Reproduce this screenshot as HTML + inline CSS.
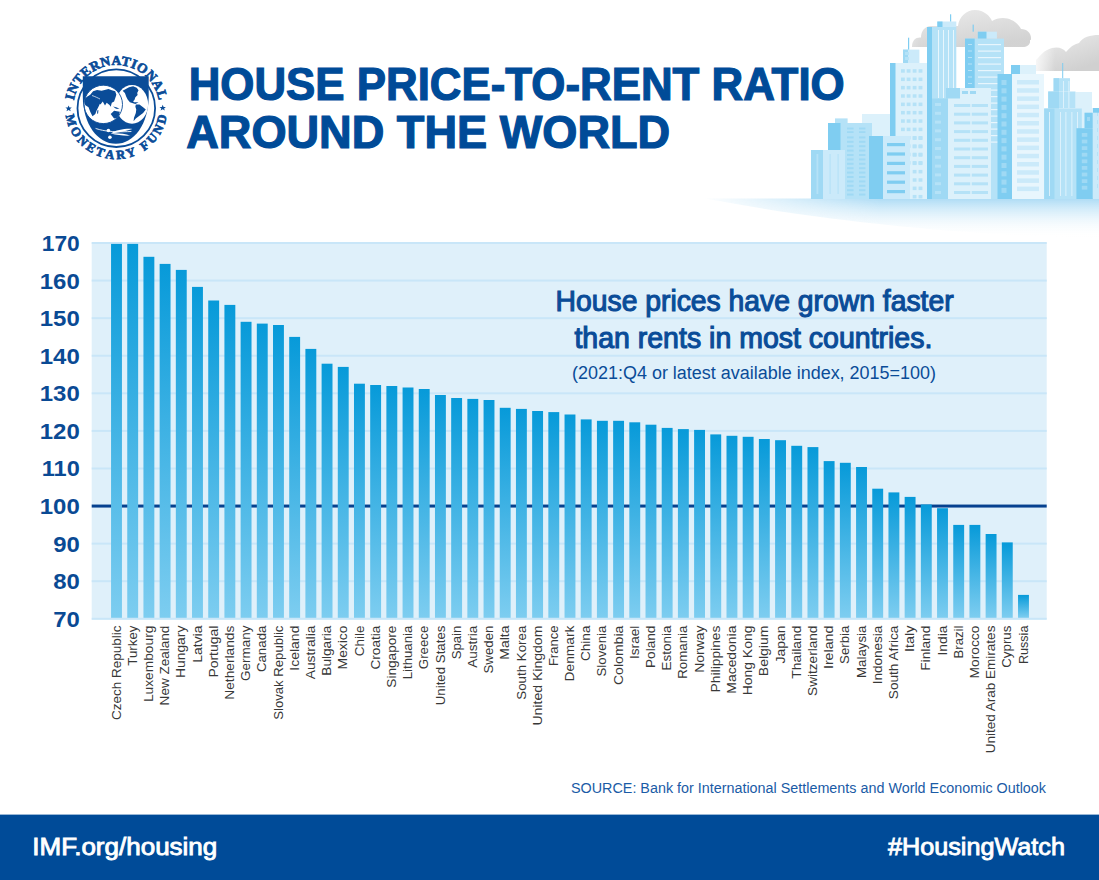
<!DOCTYPE html>
<html><head><meta charset="utf-8"><title>House price-to-rent ratio around the world</title>
<style>
html,body{margin:0;padding:0;background:#fff;}
body{width:1099px;height:880px;overflow:hidden;position:relative;font-family:"Liberation Sans",sans-serif;}
svg{position:absolute;left:0;top:0;}
.yl{font-family:"Liberation Sans",sans-serif;font-weight:bold;font-size:21.3px;fill:#0a4a94;}
.xl{font-family:"Liberation Sans",sans-serif;font-size:13px;fill:#383838;}
.ttl{font-family:"Liberation Sans",sans-serif;font-weight:bold;font-size:45.5px;fill:#004b98;stroke:#004b98;stroke-width:1.2px;}
.ann{font-family:"Liberation Sans",sans-serif;font-size:28.6px;fill:#0a4c98;stroke:#0a4c98;stroke-width:1.1px;}
.ann3{font-family:"Liberation Sans",sans-serif;font-size:18px;fill:#0a4c98;}
.src{font-family:"Liberation Sans",sans-serif;font-size:14px;fill:#1a5ba6;}
.ft{font-family:"Liberation Sans",sans-serif;font-size:23.5px;fill:#ffffff;stroke:#ffffff;stroke-width:0.85px;}
</style></head>
<body>
<svg width="1099" height="880" viewBox="0 0 1099 880">
<defs>
<linearGradient id="bg" x1="0" y1="0" x2="0" y2="1">
<stop offset="0" stop-color="#079ad9"/>
<stop offset="1" stop-color="#7dcdf0"/>
</linearGradient>
<linearGradient id="ground" x1="0" y1="0" x2="0" y2="1">
<stop offset="0" stop-color="#aedcf5"/>
<stop offset="1" stop-color="#ffffff" stop-opacity="0"/>
</linearGradient>
<linearGradient id="groundfade" x1="0" y1="0" x2="1" y2="0">
<stop offset="0" stop-color="#fff" stop-opacity="0"/>
<stop offset="0.45" stop-color="#fff" stop-opacity="1"/>
<stop offset="1" stop-color="#fff" stop-opacity="1"/>
</linearGradient>
<mask id="gmask"><rect x="700" y="190" width="399" height="55" fill="url(#groundfade)"/></mask>
<linearGradient id="cloud" x1="0" y1="0" x2="0.6" y2="1">
<stop offset="0" stop-color="#ececec"/>
<stop offset="1" stop-color="#d0d0d0"/>
</linearGradient>
<linearGradient id="cloudfade2" x1="0" y1="0" x2="1" y2="0"><stop offset="0" stop-color="#fff" stop-opacity="1"/><stop offset="1" stop-color="#fff" stop-opacity="0"/></linearGradient>
<linearGradient id="cloudfade" x1="0" y1="0" x2="1" y2="0">
<stop offset="0" stop-color="#fff" stop-opacity="0"/>
<stop offset="0.3" stop-color="#fff" stop-opacity="1"/>
</linearGradient>
</defs>
<g id="skyline">
<path d="M 705 198.6 L 1099 198.6 L 1099 238 C 990 236 850 226 705 198.6 Z" fill="url(#ground)" mask="url(#gmask)"/>
<g fill="url(#cloud)">
<path d="M 892 47 L 912 47 C 912 40 916 37 921 37.5 C 921 31 925 26 931 26 L 958 26 C 959 17 966 10 975 10 C 984 10 990 16 992 21 C 995 19 999 18 1003 18 C 1011 18 1018 23 1021 29 C 1027 29 1031 33 1031 38 C 1031 43 1028 47 1024 47 Z" opacity="0.95"/>
<path d="M 1036 71 L 1036 60 C 1040 56 1044 50 1052 48 C 1058 46.5 1063 48 1066 52 C 1070 47 1074 44 1079 43 C 1083 37 1090 35 1099 35 L 1099 71 Z"/>
</g>
<rect x="880" y="20" width="40" height="30" fill="url(#cloudfade2)"/>
<rect x="1030" y="40" width="25" height="32" fill="url(#cloudfade2)"/>
<rect x="862" y="114" width="28.00" height="85.00" fill="#dcf1fb"/>
<rect x="867" y="117" width="1.20" height="82.00" fill="#e8f6fd"/>
<rect x="873" y="117" width="1.20" height="82.00" fill="#e8f6fd"/>
<rect x="879" y="117" width="1.20" height="82.00" fill="#e8f6fd"/>
<rect x="885" y="117" width="1.20" height="82.00" fill="#e8f6fd"/>
<rect x="1075.5" y="92" width="16.50" height="107.00" fill="#dcf1fb"/>
<rect x="890" y="63" width="37.00" height="136.00" fill="#dcf1fb"/>
<rect x="890" y="63" width="5.50" height="136.00" fill="#7fcdf1"/>
<rect x="903" y="49.6" width="16.40" height="13.40" fill="#cbeafa"/>
<rect x="903" y="49.6" width="5.00" height="13.40" fill="#9fd9f4"/>
<rect x="908" y="37.7" width="1.20" height="11.90" fill="#7fcdf1"/>
<rect x="901" y="69.2" width="3.80" height="3.50" fill="#b5e2f7"/>
<rect x="906.7" y="69.2" width="3.80" height="3.50" fill="#b5e2f7"/>
<rect x="912.7" y="69.2" width="3.80" height="3.50" fill="#b5e2f7"/>
<rect x="918.6" y="69.2" width="3.80" height="3.50" fill="#b5e2f7"/>
<rect x="901" y="77.55" width="3.80" height="3.50" fill="#b5e2f7"/>
<rect x="906.7" y="77.55" width="3.80" height="3.50" fill="#b5e2f7"/>
<rect x="912.7" y="77.55" width="3.80" height="3.50" fill="#b5e2f7"/>
<rect x="918.6" y="77.55" width="3.80" height="3.50" fill="#b5e2f7"/>
<rect x="901" y="85.9" width="3.80" height="3.50" fill="#b5e2f7"/>
<rect x="906.7" y="85.9" width="3.80" height="3.50" fill="#b5e2f7"/>
<rect x="912.7" y="85.9" width="3.80" height="3.50" fill="#b5e2f7"/>
<rect x="918.6" y="85.9" width="3.80" height="3.50" fill="#b5e2f7"/>
<rect x="901" y="94.25" width="3.80" height="3.50" fill="#b5e2f7"/>
<rect x="906.7" y="94.25" width="3.80" height="3.50" fill="#b5e2f7"/>
<rect x="912.7" y="94.25" width="3.80" height="3.50" fill="#b5e2f7"/>
<rect x="918.6" y="94.25" width="3.80" height="3.50" fill="#b5e2f7"/>
<rect x="901" y="102.6" width="3.80" height="3.50" fill="#b5e2f7"/>
<rect x="906.7" y="102.6" width="3.80" height="3.50" fill="#b5e2f7"/>
<rect x="912.7" y="102.6" width="3.80" height="3.50" fill="#b5e2f7"/>
<rect x="918.6" y="102.6" width="3.80" height="3.50" fill="#b5e2f7"/>
<rect x="901" y="110.95" width="3.80" height="3.50" fill="#b5e2f7"/>
<rect x="906.7" y="110.95" width="3.80" height="3.50" fill="#b5e2f7"/>
<rect x="912.7" y="110.95" width="3.80" height="3.50" fill="#b5e2f7"/>
<rect x="918.6" y="110.95" width="3.80" height="3.50" fill="#b5e2f7"/>
<rect x="901" y="119.3" width="3.80" height="3.50" fill="#b5e2f7"/>
<rect x="906.7" y="119.3" width="3.80" height="3.50" fill="#b5e2f7"/>
<rect x="912.7" y="119.3" width="3.80" height="3.50" fill="#b5e2f7"/>
<rect x="918.6" y="119.3" width="3.80" height="3.50" fill="#b5e2f7"/>
<rect x="901" y="127.65" width="3.80" height="3.50" fill="#b5e2f7"/>
<rect x="906.7" y="127.65" width="3.80" height="3.50" fill="#b5e2f7"/>
<rect x="912.7" y="127.65" width="3.80" height="3.50" fill="#b5e2f7"/>
<rect x="918.6" y="127.65" width="3.80" height="3.50" fill="#b5e2f7"/>
<rect x="901" y="136.0" width="3.80" height="3.50" fill="#b5e2f7"/>
<rect x="906.7" y="136.0" width="3.80" height="3.50" fill="#b5e2f7"/>
<rect x="912.7" y="136.0" width="3.80" height="3.50" fill="#b5e2f7"/>
<rect x="918.6" y="136.0" width="3.80" height="3.50" fill="#b5e2f7"/>
<rect x="901" y="144.35" width="3.80" height="3.50" fill="#b5e2f7"/>
<rect x="906.7" y="144.35" width="3.80" height="3.50" fill="#b5e2f7"/>
<rect x="912.7" y="144.35" width="3.80" height="3.50" fill="#b5e2f7"/>
<rect x="918.6" y="144.35" width="3.80" height="3.50" fill="#b5e2f7"/>
<rect x="901" y="152.7" width="3.80" height="3.50" fill="#b5e2f7"/>
<rect x="906.7" y="152.7" width="3.80" height="3.50" fill="#b5e2f7"/>
<rect x="912.7" y="152.7" width="3.80" height="3.50" fill="#b5e2f7"/>
<rect x="918.6" y="152.7" width="3.80" height="3.50" fill="#b5e2f7"/>
<rect x="901" y="161.05" width="3.80" height="3.50" fill="#b5e2f7"/>
<rect x="906.7" y="161.05" width="3.80" height="3.50" fill="#b5e2f7"/>
<rect x="912.7" y="161.05" width="3.80" height="3.50" fill="#b5e2f7"/>
<rect x="918.6" y="161.05" width="3.80" height="3.50" fill="#b5e2f7"/>
<rect x="905" y="52" width="4.00" height="3.00" fill="#b5e2f7"/>
<rect x="905" y="57" width="4.00" height="3.00" fill="#b5e2f7"/>
<rect x="927" y="27" width="29.30" height="172.00" fill="#b5e2f7"/>
<rect x="927" y="27" width="5.00" height="172.00" fill="#7fcdf1"/>
<rect x="937.3" y="21.5" width="19.00" height="5.50" fill="#cbeafa"/>
<rect x="937.3" y="21.5" width="5.20" height="5.50" fill="#7fcdf1"/>
<rect x="950" y="14.3" width="1.20" height="7.20" fill="#7fcdf1"/>
<rect x="938" y="30" width="1.00" height="68.00" fill="#e8f6fd"/>
<rect x="943" y="30" width="1.00" height="68.00" fill="#e8f6fd"/>
<rect x="948" y="30" width="1.00" height="68.00" fill="#e8f6fd"/>
<rect x="953" y="30" width="1.00" height="68.00" fill="#e8f6fd"/>
<rect x="932" y="98.5" width="16.00" height="100.50" fill="#9fd9f4"/>
<rect x="935" y="103.0" width="6.00" height="3.00" fill="#b5e2f7"/>
<rect x="935" y="111.8" width="6.00" height="3.00" fill="#b5e2f7"/>
<rect x="935" y="120.6" width="6.00" height="3.00" fill="#b5e2f7"/>
<rect x="935" y="129.4" width="6.00" height="3.00" fill="#b5e2f7"/>
<rect x="935" y="138.2" width="6.00" height="3.00" fill="#b5e2f7"/>
<rect x="935" y="147.0" width="6.00" height="3.00" fill="#b5e2f7"/>
<rect x="935" y="155.8" width="6.00" height="3.00" fill="#b5e2f7"/>
<rect x="935" y="164.60000000000002" width="6.00" height="3.00" fill="#b5e2f7"/>
<rect x="935" y="173.4" width="6.00" height="3.00" fill="#b5e2f7"/>
<rect x="935" y="182.2" width="6.00" height="3.00" fill="#b5e2f7"/>
<rect x="935" y="191.0" width="6.00" height="3.00" fill="#b5e2f7"/>
<rect x="965" y="38.6" width="39.00" height="160.40" fill="#b5e2f7"/>
<rect x="965" y="38.6" width="9.70" height="160.40" fill="#7fcdf1"/>
<rect x="968" y="44.0" width="4.00" height="1.00" fill="#b5e2f7"/>
<rect x="978" y="44.0" width="23.00" height="1.20" fill="#e8f6fd"/>
<rect x="968" y="50.5" width="4.00" height="1.00" fill="#b5e2f7"/>
<rect x="978" y="50.5" width="23.00" height="1.20" fill="#e8f6fd"/>
<rect x="968" y="57.0" width="4.00" height="1.00" fill="#b5e2f7"/>
<rect x="978" y="57.0" width="23.00" height="1.20" fill="#e8f6fd"/>
<rect x="968" y="63.5" width="4.00" height="1.00" fill="#b5e2f7"/>
<rect x="978" y="63.5" width="23.00" height="1.20" fill="#e8f6fd"/>
<rect x="968" y="70.0" width="4.00" height="1.00" fill="#b5e2f7"/>
<rect x="978" y="70.0" width="23.00" height="1.20" fill="#e8f6fd"/>
<rect x="968" y="76.5" width="4.00" height="1.00" fill="#b5e2f7"/>
<rect x="978" y="76.5" width="23.00" height="1.20" fill="#e8f6fd"/>
<rect x="968" y="83.0" width="4.00" height="1.00" fill="#b5e2f7"/>
<rect x="978" y="83.0" width="23.00" height="1.20" fill="#e8f6fd"/>
<rect x="968" y="89.5" width="4.00" height="1.00" fill="#b5e2f7"/>
<rect x="978" y="89.5" width="23.00" height="1.20" fill="#e8f6fd"/>
<rect x="968" y="96.0" width="4.00" height="1.00" fill="#b5e2f7"/>
<rect x="978" y="96.0" width="23.00" height="1.20" fill="#e8f6fd"/>
<rect x="968" y="102.5" width="4.00" height="1.00" fill="#b5e2f7"/>
<rect x="978" y="102.5" width="23.00" height="1.20" fill="#e8f6fd"/>
<rect x="968" y="109.0" width="4.00" height="1.00" fill="#b5e2f7"/>
<rect x="978" y="109.0" width="23.00" height="1.20" fill="#e8f6fd"/>
<rect x="968" y="115.5" width="4.00" height="1.00" fill="#b5e2f7"/>
<rect x="978" y="115.5" width="23.00" height="1.20" fill="#e8f6fd"/>
<rect x="968" y="122.0" width="4.00" height="1.00" fill="#b5e2f7"/>
<rect x="978" y="122.0" width="23.00" height="1.20" fill="#e8f6fd"/>
<rect x="968" y="128.5" width="4.00" height="1.00" fill="#b5e2f7"/>
<rect x="978" y="128.5" width="23.00" height="1.20" fill="#e8f6fd"/>
<rect x="968" y="135.0" width="4.00" height="1.00" fill="#b5e2f7"/>
<rect x="978" y="135.0" width="23.00" height="1.20" fill="#e8f6fd"/>
<rect x="968" y="141.5" width="4.00" height="1.00" fill="#b5e2f7"/>
<rect x="978" y="141.5" width="23.00" height="1.20" fill="#e8f6fd"/>
<rect x="977.8" y="31.7" width="19.10" height="6.90" fill="#cbeafa"/>
<rect x="977.8" y="31.7" width="8.70" height="6.90" fill="#7fcdf1"/>
<rect x="972.6" y="24.6" width="1.20" height="7.10" fill="#7fcdf1"/>
<rect x="948" y="88" width="43.00" height="111.00" fill="#dcf1fb"/>
<rect x="946" y="88" width="14.00" height="10.50" fill="#9fd9f4"/>
<rect x="962" y="91" width="6.00" height="3.00" fill="#9fd9f4"/>
<rect x="970" y="91" width="6.00" height="3.00" fill="#9fd9f4"/>
<rect x="954" y="104.0" width="16.50" height="3.00" fill="#b5e2f7"/>
<rect x="971.5" y="104.0" width="16.50" height="3.00" fill="#b5e2f7"/>
<rect x="954" y="112.7" width="16.50" height="3.00" fill="#b5e2f7"/>
<rect x="971.5" y="112.7" width="16.50" height="3.00" fill="#b5e2f7"/>
<rect x="954" y="121.4" width="16.50" height="3.00" fill="#b5e2f7"/>
<rect x="971.5" y="121.4" width="16.50" height="3.00" fill="#b5e2f7"/>
<rect x="954" y="130.1" width="16.50" height="3.00" fill="#b5e2f7"/>
<rect x="971.5" y="130.1" width="16.50" height="3.00" fill="#b5e2f7"/>
<rect x="954" y="138.8" width="16.50" height="3.00" fill="#b5e2f7"/>
<rect x="971.5" y="138.8" width="16.50" height="3.00" fill="#b5e2f7"/>
<rect x="954" y="147.5" width="16.50" height="3.00" fill="#b5e2f7"/>
<rect x="971.5" y="147.5" width="16.50" height="3.00" fill="#b5e2f7"/>
<rect x="954" y="156.2" width="16.50" height="3.00" fill="#b5e2f7"/>
<rect x="971.5" y="156.2" width="16.50" height="3.00" fill="#b5e2f7"/>
<rect x="954" y="164.89999999999998" width="16.50" height="3.00" fill="#b5e2f7"/>
<rect x="971.5" y="164.89999999999998" width="16.50" height="3.00" fill="#b5e2f7"/>
<rect x="954" y="173.6" width="16.50" height="3.00" fill="#b5e2f7"/>
<rect x="971.5" y="173.6" width="16.50" height="3.00" fill="#b5e2f7"/>
<rect x="954" y="182.3" width="16.50" height="3.00" fill="#b5e2f7"/>
<rect x="971.5" y="182.3" width="16.50" height="3.00" fill="#b5e2f7"/>
<rect x="954" y="191.0" width="16.50" height="3.00" fill="#b5e2f7"/>
<rect x="971.5" y="191.0" width="16.50" height="3.00" fill="#b5e2f7"/>
<rect x="970.5" y="104" width="1.00" height="91.00" fill="#dcf1fb"/>
<rect x="997.5" y="74" width="14.50" height="125.00" fill="#7fcdf1"/>
<rect x="1001.5" y="80.0" width="5.00" height="5.00" fill="#9fd9f4"/>
<rect x="1001.5" y="88.3" width="5.00" height="5.00" fill="#9fd9f4"/>
<rect x="1001.5" y="96.6" width="5.00" height="5.00" fill="#9fd9f4"/>
<rect x="1001.5" y="104.9" width="5.00" height="5.00" fill="#9fd9f4"/>
<rect x="1001.5" y="113.2" width="5.00" height="5.00" fill="#9fd9f4"/>
<rect x="1001.5" y="121.5" width="5.00" height="5.00" fill="#9fd9f4"/>
<rect x="1001.5" y="129.8" width="5.00" height="5.00" fill="#9fd9f4"/>
<rect x="1001.5" y="138.10000000000002" width="5.00" height="5.00" fill="#9fd9f4"/>
<rect x="1001.5" y="146.4" width="5.00" height="5.00" fill="#9fd9f4"/>
<rect x="1001.5" y="154.7" width="5.00" height="5.00" fill="#9fd9f4"/>
<rect x="1001.5" y="163.0" width="5.00" height="5.00" fill="#9fd9f4"/>
<rect x="1001.5" y="171.3" width="5.00" height="5.00" fill="#9fd9f4"/>
<rect x="1001.5" y="179.60000000000002" width="5.00" height="5.00" fill="#9fd9f4"/>
<rect x="1001.5" y="187.9" width="5.00" height="5.00" fill="#9fd9f4"/>
<rect x="1012" y="74" width="32.00" height="125.00" fill="#e8f6fd"/>
<rect x="1011" y="65" width="9.00" height="9.00" fill="#7fcdf1"/>
<rect x="1020" y="65" width="16.00" height="9.00" fill="#dcf1fb"/>
<rect x="1017" y="80.0" width="22.00" height="4.50" fill="#cbeafa"/>
<rect x="1017" y="88.2" width="22.00" height="4.50" fill="#cbeafa"/>
<rect x="1017" y="96.4" width="22.00" height="4.50" fill="#cbeafa"/>
<rect x="1017" y="104.6" width="22.00" height="4.50" fill="#cbeafa"/>
<rect x="1017" y="112.8" width="22.00" height="4.50" fill="#cbeafa"/>
<rect x="1017" y="121.0" width="22.00" height="4.50" fill="#cbeafa"/>
<rect x="1017" y="129.2" width="22.00" height="4.50" fill="#cbeafa"/>
<rect x="1017" y="137.39999999999998" width="22.00" height="4.50" fill="#cbeafa"/>
<rect x="1017" y="145.6" width="22.00" height="4.50" fill="#cbeafa"/>
<rect x="1017" y="153.8" width="22.00" height="4.50" fill="#cbeafa"/>
<rect x="1017" y="162.0" width="22.00" height="4.50" fill="#cbeafa"/>
<rect x="1017" y="170.2" width="22.00" height="4.50" fill="#cbeafa"/>
<rect x="1017" y="178.39999999999998" width="22.00" height="4.50" fill="#cbeafa"/>
<rect x="1017" y="186.6" width="22.00" height="4.50" fill="#cbeafa"/>
<rect x="1044.2" y="108.5" width="37.60" height="90.50" fill="#b5e2f7"/>
<rect x="1044.2" y="108.5" width="10.30" height="90.50" fill="#9fd9f4"/>
<rect x="1048.2" y="91.5" width="27.30" height="17.00" fill="#b5e2f7"/>
<rect x="1048.2" y="91.5" width="10.80" height="17.00" fill="#9fd9f4"/>
<rect x="1053.6" y="78.2" width="16.40" height="13.30" fill="#b5e2f7"/>
<rect x="1053.6" y="78.2" width="5.40" height="13.30" fill="#9fd9f4"/>
<rect x="1062.2" y="63" width="1.00" height="15.20" fill="#7fcdf1"/>
<rect x="1049" y="112" width="0.80" height="84.00" fill="#e8f6fd"/>
<rect x="1060" y="112" width="0.80" height="84.00" fill="#e8f6fd"/>
<rect x="1065.5" y="112" width="0.80" height="84.00" fill="#e8f6fd"/>
<rect x="1071.5" y="112" width="0.80" height="84.00" fill="#e8f6fd"/>
<rect x="1077" y="112" width="0.80" height="84.00" fill="#e8f6fd"/>
<rect x="1063" y="81" width="0.80" height="27.00" fill="#e8f6fd"/>
<rect x="1068.5" y="81" width="0.80" height="27.00" fill="#e8f6fd"/>
<rect x="1092.8" y="108" width="6.20" height="91.00" fill="#cbeafa"/>
<rect x="1097" y="112" width="1.00" height="4.00" fill="#b5e2f7"/>
<rect x="1097" y="120" width="1.00" height="4.00" fill="#b5e2f7"/>
<rect x="1097" y="128" width="1.00" height="4.00" fill="#b5e2f7"/>
<rect x="1097" y="136" width="1.00" height="4.00" fill="#b5e2f7"/>
<rect x="1097" y="144" width="1.00" height="4.00" fill="#b5e2f7"/>
<rect x="1097" y="152" width="1.00" height="4.00" fill="#b5e2f7"/>
<rect x="1097" y="160" width="1.00" height="4.00" fill="#b5e2f7"/>
<rect x="1097" y="168" width="1.00" height="4.00" fill="#b5e2f7"/>
<rect x="1097" y="176" width="1.00" height="4.00" fill="#b5e2f7"/>
<rect x="1097" y="184" width="1.00" height="4.00" fill="#b5e2f7"/>
<rect x="1076.4" y="128.2" width="16.40" height="70.80" fill="#7fcdf1"/>
<rect x="1084.5" y="112.7" width="8.30" height="15.50" fill="#7fcdf1"/>
<rect x="1092.8" y="108" width="6.20" height="4.70" fill="#7fcdf1"/>
<rect x="1087" y="117" width="3.00" height="4.00" fill="#9fd9f4"/>
<rect x="1081.8" y="133.0" width="5.50" height="3.80" fill="#9fd9f4"/>
<rect x="1081.8" y="139.6" width="5.50" height="3.80" fill="#9fd9f4"/>
<rect x="1081.8" y="146.2" width="5.50" height="3.80" fill="#9fd9f4"/>
<rect x="1081.8" y="152.8" width="5.50" height="3.80" fill="#9fd9f4"/>
<rect x="1081.8" y="159.4" width="5.50" height="3.80" fill="#9fd9f4"/>
<rect x="1081.8" y="166.0" width="5.50" height="3.80" fill="#9fd9f4"/>
<rect x="1081.8" y="172.6" width="5.50" height="3.80" fill="#9fd9f4"/>
<rect x="1081.8" y="179.2" width="5.50" height="3.80" fill="#9fd9f4"/>
<rect x="1081.8" y="185.8" width="5.50" height="3.80" fill="#9fd9f4"/>
<rect x="862" y="114" width="28.00" height="85.00" fill="#dcf1fb"/>
<rect x="828" y="123" width="44.00" height="76.00" fill="#b5e2f7"/>
<rect x="828" y="123" width="12.50" height="76.00" fill="#7fcdf1"/>
<rect x="835" y="118.4" width="12.60" height="4.60" fill="#b5e2f7"/>
<rect x="847" y="127.6" width="6.60" height="1.80" fill="#9fd9f4"/>
<rect x="859" y="127.6" width="6.40" height="1.80" fill="#9fd9f4"/>
<rect x="847" y="131.2" width="6.60" height="1.80" fill="#9fd9f4"/>
<rect x="859" y="131.2" width="6.40" height="1.80" fill="#9fd9f4"/>
<rect x="847" y="136.4" width="6.60" height="2.00" fill="#9fd9f4"/>
<rect x="859" y="136.4" width="6.40" height="2.00" fill="#9fd9f4"/>
<rect x="847" y="140.8" width="6.60" height="2.00" fill="#9fd9f4"/>
<rect x="859" y="140.8" width="6.40" height="2.00" fill="#9fd9f4"/>
<rect x="847" y="145.20000000000002" width="6.60" height="2.00" fill="#9fd9f4"/>
<rect x="859" y="145.20000000000002" width="6.40" height="2.00" fill="#9fd9f4"/>
<rect x="847" y="149.6" width="6.60" height="2.00" fill="#9fd9f4"/>
<rect x="859" y="149.6" width="6.40" height="2.00" fill="#9fd9f4"/>
<rect x="847" y="154.0" width="6.60" height="2.00" fill="#9fd9f4"/>
<rect x="859" y="154.0" width="6.40" height="2.00" fill="#9fd9f4"/>
<rect x="847" y="158.4" width="6.60" height="2.00" fill="#9fd9f4"/>
<rect x="859" y="158.4" width="6.40" height="2.00" fill="#9fd9f4"/>
<rect x="847" y="162.8" width="6.60" height="2.00" fill="#9fd9f4"/>
<rect x="859" y="162.8" width="6.40" height="2.00" fill="#9fd9f4"/>
<rect x="847" y="167.20000000000002" width="6.60" height="2.00" fill="#9fd9f4"/>
<rect x="859" y="167.20000000000002" width="6.40" height="2.00" fill="#9fd9f4"/>
<rect x="847" y="171.60000000000002" width="6.60" height="2.00" fill="#9fd9f4"/>
<rect x="859" y="171.60000000000002" width="6.40" height="2.00" fill="#9fd9f4"/>
<rect x="847" y="176.0" width="6.60" height="2.00" fill="#9fd9f4"/>
<rect x="859" y="176.0" width="6.40" height="2.00" fill="#9fd9f4"/>
<rect x="847" y="180.4" width="6.60" height="2.00" fill="#9fd9f4"/>
<rect x="859" y="180.4" width="6.40" height="2.00" fill="#9fd9f4"/>
<rect x="847" y="184.8" width="6.60" height="2.00" fill="#9fd9f4"/>
<rect x="859" y="184.8" width="6.40" height="2.00" fill="#9fd9f4"/>
<rect x="847" y="189.20000000000002" width="6.60" height="2.00" fill="#9fd9f4"/>
<rect x="859" y="189.20000000000002" width="6.40" height="2.00" fill="#9fd9f4"/>
<rect x="847" y="193.60000000000002" width="6.60" height="2.00" fill="#9fd9f4"/>
<rect x="859" y="193.60000000000002" width="6.40" height="2.00" fill="#9fd9f4"/>
<rect x="869" y="136" width="41.00" height="63.00" fill="#cbeafa"/>
<rect x="869" y="136" width="14.00" height="63.00" fill="#7fcdf1"/>
<rect x="887" y="143.0" width="18.00" height="3.20" fill="#7fcdf1"/>
<rect x="887" y="152.4" width="18.00" height="3.20" fill="#7fcdf1"/>
<rect x="887" y="161.8" width="18.00" height="3.20" fill="#7fcdf1"/>
<rect x="887" y="171.2" width="18.00" height="3.20" fill="#7fcdf1"/>
<rect x="887" y="180.6" width="18.00" height="3.20" fill="#7fcdf1"/>
<rect x="887" y="190.0" width="18.00" height="3.20" fill="#7fcdf1"/>
<rect x="811" y="150" width="34.00" height="49.00" fill="#cbeafa"/>
<rect x="811" y="150" width="12.00" height="49.00" fill="#9fd9f4"/>
<rect x="816.5" y="154" width="1.80" height="40.00" fill="#b5e2f7"/>
<rect x="829.5" y="154" width="1.20" height="40.00" fill="#b5e2f7"/>
<rect x="837.5" y="154" width="1.20" height="40.00" fill="#b5e2f7"/>
<rect x="912.7" y="136.5" width="3.80" height="3.50" fill="#b5e2f7"/>
<rect x="918.6" y="136.5" width="3.80" height="3.50" fill="#b5e2f7"/>
<rect x="912.7" y="144.85" width="3.80" height="3.50" fill="#b5e2f7"/>
<rect x="918.6" y="144.85" width="3.80" height="3.50" fill="#b5e2f7"/>
<rect x="912.7" y="153.2" width="3.80" height="3.50" fill="#b5e2f7"/>
<rect x="918.6" y="153.2" width="3.80" height="3.50" fill="#b5e2f7"/>
<rect x="912.7" y="161.55" width="3.80" height="3.50" fill="#b5e2f7"/>
<rect x="918.6" y="161.55" width="3.80" height="3.50" fill="#b5e2f7"/>
<rect x="912.7" y="169.9" width="3.80" height="3.50" fill="#b5e2f7"/>
<rect x="918.6" y="169.9" width="3.80" height="3.50" fill="#b5e2f7"/>
<rect x="912.7" y="178.25" width="3.80" height="3.50" fill="#b5e2f7"/>
<rect x="918.6" y="178.25" width="3.80" height="3.50" fill="#b5e2f7"/>
<rect x="912.7" y="186.6" width="3.80" height="3.50" fill="#b5e2f7"/>
<rect x="918.6" y="186.6" width="3.80" height="3.50" fill="#b5e2f7"/>
<rect x="912.7" y="194.95" width="3.80" height="3.50" fill="#b5e2f7"/>
<rect x="918.6" y="194.95" width="3.80" height="3.50" fill="#b5e2f7"/>
</g>
<g id="logo">
<defs>
<path id="arcTop" d="M 73.1 108.2 A 43.2 43.2 0 0 1 159.5 108.2"/>
<path id="arcBot" d="M 65.4 108.2 A 50.9 50.9 0 0 0 167.2 108.2"/>
<clipPath id="gclipL"><circle cx="103.3" cy="104.4" r="19.2"/></clipPath>
<clipPath id="gclipR"><ellipse cx="132" cy="104.4" rx="16.1" ry="19.3"/></clipPath>
</defs>
<circle cx="116.3" cy="108.2" r="38.8" fill="none" stroke="#0a4c98" stroke-width="1.8"/>
<path d="M 82.8 76.2 H 148.7 V 96 C 148.7 124 134 143.8 115.8 143.8 C 97.6 143.8 82.8 124 82.8 96 Z" fill="#0a4c98"/>
<ellipse cx="132" cy="104.4" rx="16.1" ry="19.3" fill="#fff"/>
<g clip-path="url(#gclipR)">
<path d="M 122.64 90.82 L 125.82 89.00 L 129.00 87.18 L 133.09 86.27 L 136.73 87.64 L 138.55 90.36 L 137.18 93.09 L 137.64 94.91 L 135.36 97.18 L 134.45 99.91 L 133.09 101.27 L 134.00 102.18 L 138.55 102.18 L 135.36 104.00 L 132.18 103.09 L 129.91 102.18 L 127.64 99.45 L 126.27 96.73 L 124.91 93.09 Z" fill="#0a4c98"/>
<path d="M 135.82 104.45 L 139.45 104.45 L 143.09 107.18 L 145.82 109.45 L 143.09 113.09 L 139.45 115.82 L 135.82 118.55 L 133.55 121.27 L 134.00 117.64 L 135.82 113.09 L 136.27 109.45 L 135.36 106.73 Z" fill="#0a4c98"/>
</g>
<circle cx="103.3" cy="104.4" r="19.2" fill="#fff" stroke="#0a4c98" stroke-width="0.9"/>
<g clip-path="url(#gclipL)">
<path d="M 84.55 98.75 L 85.11 105.00 L 88.52 107.27 L 90.23 111.82 L 92.50 116.36 L 95.34 114.09 L 96.48 110.68 L 98.75 106.14 L 99.89 103.86 L 100.45 104.43 L 102.73 101.59 L 105.00 105.57 L 106.70 102.73 L 109.55 105.00 L 110.68 106.70 L 111.82 102.73 L 114.09 101.59 L 115.23 98.18 L 116.36 94.77 L 115.23 91.36 L 111.82 90.23 L 108.41 89.09 L 105.57 89.66 L 101.59 90.80 L 97.05 89.94 L 93.07 91.36 L 90.23 94.77 L 87.39 96.48 Z" fill="#0a4c98"/>
<path d="M 110.70 114.10 L 114.10 110.70 L 119.80 111.80 L 118.60 117.50 L 114.10 118.60 Z" fill="#0a4c98"/>
<path d="M 97.3 110.5 L 98.4 110 L 98.1 113.5 L 97.1 113.8 Z" fill="#0a4c98"/>
<path d="M 113 106.5 L 117 107.5 L 119.5 109 L 116 108.8 Z" fill="#0a4c98"/>
<path d="M 92 95.5 C 95 96.5 98 98 100 99" stroke="#fff" stroke-width="0.7" fill="none"/>
</g>
<!-- olive branch -->
<path d="M 95.6 128.4 C 102 130.5 110 132.5 131.4 131.5" fill="none" stroke="#fff" stroke-width="0.9"/>
<path d="M 110.9 133.5 C 116 130 124 128.5 132.4 128.9 C 126 131 118 132.5 110.9 133.5 Z" fill="#fff"/>
<path d="M 110.9 133.5 C 117 133 124 133.5 130.3 135.6 C 124 136 117 135 110.9 133.5 Z" fill="#fff"/>
<circle cx="108.4" cy="130.5" r="1.8" fill="#fff"/>
<circle cx="109.9" cy="137.2" r="1.8" fill="#fff"/>
<text font-family="Liberation Serif" font-weight="bold" font-size="13.5" fill="#0a4c98" stroke="#0a4c98" stroke-width="0.7"><textPath href="#arcTop" startOffset="50%" text-anchor="middle" textLength="120" lengthAdjust="spacing">INTERNATIONAL</textPath></text>
<text font-family="Liberation Serif" font-weight="bold" font-size="12.6" fill="#0a4c98" stroke="#0a4c98" stroke-width="0.7"><textPath href="#arcBot" startOffset="50%" text-anchor="middle" textLength="145" lengthAdjust="spacing">MONETARY FUND</textPath></text>
<path d="M 68.6 105.4 L 69.5 107.6 L 71.8 107.6 L 70 109 L 70.7 111.2 L 68.6 109.9 L 66.5 111.2 L 67.2 109 L 65.4 107.6 L 67.7 107.6 Z" fill="#0a4c98"/>
<path d="M 162.7 104.8 L 163.6 107 L 165.9 107 L 164.1 108.4 L 164.8 110.6 L 162.7 109.3 L 160.6 110.6 L 161.3 108.4 L 159.5 107 L 161.8 107 Z" fill="#0a4c98"/>
</g>

<text x="188.7" y="99.7" class="ttl" textLength="656" lengthAdjust="spacingAndGlyphs">HOUSE PRICE-TO-RENT RATIO</text>
<text x="186.2" y="148.3" class="ttl" textLength="484" lengthAdjust="spacingAndGlyphs">AROUND THE WORLD</text>
<rect x="91.7" y="242.2" width="955" height="377.3" fill="#dff0fa"/>
<rect x="91.7" y="617.80" width="955" height="2" fill="#c9e6f8"/>
<rect x="91.7" y="580.22" width="955" height="2" fill="#c9e6f8"/>
<rect x="91.7" y="542.64" width="955" height="2" fill="#c9e6f8"/>
<rect x="91.7" y="467.48" width="955" height="2" fill="#c9e6f8"/>
<rect x="91.7" y="429.90" width="955" height="2" fill="#c9e6f8"/>
<rect x="91.7" y="392.32" width="955" height="2" fill="#c9e6f8"/>
<rect x="91.7" y="354.74" width="955" height="2" fill="#c9e6f8"/>
<rect x="91.7" y="317.16" width="955" height="2" fill="#c9e6f8"/>
<rect x="91.7" y="279.58" width="955" height="2" fill="#c9e6f8"/>
<rect x="91.7" y="242.00" width="955" height="2" fill="#c9e6f8"/>
<rect x="91.7" y="504.56" width="955" height="3" fill="#06418f"/>
<rect x="111.05" y="243.90" width="10.9" height="373.90" fill="url(#bg)"/>
<rect x="127.25" y="243.90" width="10.9" height="373.90" fill="url(#bg)"/>
<rect x="143.44" y="256.80" width="10.9" height="361.00" fill="url(#bg)"/>
<rect x="159.64" y="263.90" width="10.9" height="353.90" fill="url(#bg)"/>
<rect x="175.83" y="269.90" width="10.9" height="347.90" fill="url(#bg)"/>
<rect x="192.03" y="286.90" width="10.9" height="330.90" fill="url(#bg)"/>
<rect x="208.23" y="300.50" width="10.9" height="317.30" fill="url(#bg)"/>
<rect x="224.42" y="304.90" width="10.9" height="312.90" fill="url(#bg)"/>
<rect x="240.62" y="321.80" width="10.9" height="296.00" fill="url(#bg)"/>
<rect x="256.81" y="323.60" width="10.9" height="294.20" fill="url(#bg)"/>
<rect x="273.01" y="325.00" width="10.9" height="292.80" fill="url(#bg)"/>
<rect x="289.21" y="336.90" width="10.9" height="280.90" fill="url(#bg)"/>
<rect x="305.40" y="348.90" width="10.9" height="268.90" fill="url(#bg)"/>
<rect x="321.60" y="363.70" width="10.9" height="254.10" fill="url(#bg)"/>
<rect x="337.79" y="366.90" width="10.9" height="250.90" fill="url(#bg)"/>
<rect x="353.99" y="383.70" width="10.9" height="234.10" fill="url(#bg)"/>
<rect x="370.19" y="385.00" width="10.9" height="232.80" fill="url(#bg)"/>
<rect x="386.38" y="386.00" width="10.9" height="231.80" fill="url(#bg)"/>
<rect x="402.58" y="387.50" width="10.9" height="230.30" fill="url(#bg)"/>
<rect x="418.77" y="389.00" width="10.9" height="228.80" fill="url(#bg)"/>
<rect x="434.97" y="395.00" width="10.9" height="222.80" fill="url(#bg)"/>
<rect x="451.17" y="398.00" width="10.9" height="219.80" fill="url(#bg)"/>
<rect x="467.36" y="398.90" width="10.9" height="218.90" fill="url(#bg)"/>
<rect x="483.56" y="400.00" width="10.9" height="217.80" fill="url(#bg)"/>
<rect x="499.75" y="407.80" width="10.9" height="210.00" fill="url(#bg)"/>
<rect x="515.95" y="408.90" width="10.9" height="208.90" fill="url(#bg)"/>
<rect x="532.15" y="411.00" width="10.9" height="206.80" fill="url(#bg)"/>
<rect x="548.34" y="412.10" width="10.9" height="205.70" fill="url(#bg)"/>
<rect x="564.54" y="414.50" width="10.9" height="203.30" fill="url(#bg)"/>
<rect x="580.73" y="419.40" width="10.9" height="198.40" fill="url(#bg)"/>
<rect x="596.93" y="420.80" width="10.9" height="197.00" fill="url(#bg)"/>
<rect x="613.13" y="420.80" width="10.9" height="197.00" fill="url(#bg)"/>
<rect x="629.32" y="422.30" width="10.9" height="195.50" fill="url(#bg)"/>
<rect x="645.52" y="424.70" width="10.9" height="193.10" fill="url(#bg)"/>
<rect x="661.71" y="427.90" width="10.9" height="189.90" fill="url(#bg)"/>
<rect x="677.91" y="429.10" width="10.9" height="188.70" fill="url(#bg)"/>
<rect x="694.11" y="429.90" width="10.9" height="187.90" fill="url(#bg)"/>
<rect x="710.30" y="434.40" width="10.9" height="183.40" fill="url(#bg)"/>
<rect x="726.50" y="435.80" width="10.9" height="182.00" fill="url(#bg)"/>
<rect x="742.69" y="436.80" width="10.9" height="181.00" fill="url(#bg)"/>
<rect x="758.89" y="439.00" width="10.9" height="178.80" fill="url(#bg)"/>
<rect x="775.09" y="440.20" width="10.9" height="177.60" fill="url(#bg)"/>
<rect x="791.28" y="445.80" width="10.9" height="172.00" fill="url(#bg)"/>
<rect x="807.48" y="447.10" width="10.9" height="170.70" fill="url(#bg)"/>
<rect x="823.67" y="461.10" width="10.9" height="156.70" fill="url(#bg)"/>
<rect x="839.87" y="462.80" width="10.9" height="155.00" fill="url(#bg)"/>
<rect x="856.07" y="467.00" width="10.9" height="150.80" fill="url(#bg)"/>
<rect x="872.26" y="488.70" width="10.9" height="129.10" fill="url(#bg)"/>
<rect x="888.46" y="492.40" width="10.9" height="125.40" fill="url(#bg)"/>
<rect x="904.65" y="496.90" width="10.9" height="120.90" fill="url(#bg)"/>
<rect x="920.85" y="504.50" width="10.9" height="113.30" fill="url(#bg)"/>
<rect x="937.05" y="508.20" width="10.9" height="109.60" fill="url(#bg)"/>
<rect x="953.24" y="524.90" width="10.9" height="92.90" fill="url(#bg)"/>
<rect x="969.44" y="524.90" width="10.9" height="92.90" fill="url(#bg)"/>
<rect x="985.63" y="534.00" width="10.9" height="83.80" fill="url(#bg)"/>
<rect x="1001.83" y="542.40" width="10.9" height="75.40" fill="url(#bg)"/>
<rect x="1018.03" y="594.90" width="10.9" height="22.90" fill="url(#bg)"/>
<text x="754.6" y="311.4" text-anchor="middle" class="ann" textLength="398" lengthAdjust="spacingAndGlyphs">House prices have grown faster</text>
<text x="753.4" y="348" text-anchor="middle" class="ann" textLength="358" lengthAdjust="spacingAndGlyphs">than rents in most countries.</text>
<text x="754" y="379" text-anchor="middle" class="ann3" textLength="364" lengthAdjust="spacingAndGlyphs">(2021:Q4 or latest available index, 2015=100)</text>
<text x="79.8" y="626.80" text-anchor="end" class="yl" textLength="26.6" lengthAdjust="spacingAndGlyphs">70</text>
<text x="79.8" y="589.22" text-anchor="end" class="yl" textLength="26.6" lengthAdjust="spacingAndGlyphs">80</text>
<text x="79.8" y="551.64" text-anchor="end" class="yl" textLength="26.6" lengthAdjust="spacingAndGlyphs">90</text>
<text x="79.8" y="514.06" text-anchor="end" class="yl" textLength="40" lengthAdjust="spacingAndGlyphs">100</text>
<text x="79.8" y="476.48" text-anchor="end" class="yl" textLength="38" lengthAdjust="spacingAndGlyphs">110</text>
<text x="79.8" y="438.90" text-anchor="end" class="yl" textLength="40" lengthAdjust="spacingAndGlyphs">120</text>
<text x="79.8" y="401.32" text-anchor="end" class="yl" textLength="40" lengthAdjust="spacingAndGlyphs">130</text>
<text x="79.8" y="363.74" text-anchor="end" class="yl" textLength="40" lengthAdjust="spacingAndGlyphs">140</text>
<text x="79.8" y="326.16" text-anchor="end" class="yl" textLength="40" lengthAdjust="spacingAndGlyphs">150</text>
<text x="79.8" y="288.58" text-anchor="end" class="yl" textLength="40" lengthAdjust="spacingAndGlyphs">160</text>
<text x="79.8" y="251.00" text-anchor="end" class="yl" textLength="38" lengthAdjust="spacingAndGlyphs">170</text>
<text transform="translate(120.60,625.6) rotate(-90) scale(1.0378,1)" text-anchor="end" class="xl">Czech Republic</text>
<text transform="translate(136.80,625.6) rotate(-90) scale(1.0211,1)" text-anchor="end" class="xl">Turkey</text>
<text transform="translate(152.99,625.6) rotate(-90) scale(1.0606,1)" text-anchor="end" class="xl">Luxembourg</text>
<text transform="translate(169.19,625.6) rotate(-90) scale(1.0427,1)" text-anchor="end" class="xl">New Zealand</text>
<text transform="translate(185.38,625.6) rotate(-90) scale(1.0687,1)" text-anchor="end" class="xl">Hungary</text>
<text transform="translate(201.58,625.6) rotate(-90) scale(1.0697,1)" text-anchor="end" class="xl">Latvia</text>
<text transform="translate(217.78,625.6) rotate(-90) scale(1.0745,1)" text-anchor="end" class="xl">Portugal</text>
<text transform="translate(233.97,625.6) rotate(-90) scale(1.0594,1)" text-anchor="end" class="xl">Netherlands</text>
<text transform="translate(250.17,625.6) rotate(-90) scale(1.0346,1)" text-anchor="end" class="xl">Germany</text>
<text transform="translate(266.36,625.6) rotate(-90) scale(1.0222,1)" text-anchor="end" class="xl">Canada</text>
<text transform="translate(282.56,625.6) rotate(-90) scale(1.0109,1)" text-anchor="end" class="xl">Slovak Republic</text>
<text transform="translate(298.76,625.6) rotate(-90) scale(1.075,1)" text-anchor="end" class="xl">Iceland</text>
<text transform="translate(314.95,625.6) rotate(-90) scale(1.0612,1)" text-anchor="end" class="xl">Australia</text>
<text transform="translate(331.15,625.6) rotate(-90) scale(1.0522,1)" text-anchor="end" class="xl">Bulgaria</text>
<text transform="translate(347.34,625.6) rotate(-90) scale(1.065,1)" text-anchor="end" class="xl">Mexico</text>
<text transform="translate(363.54,625.6) rotate(-90) scale(1.0345,1)" text-anchor="end" class="xl">Chile</text>
<text transform="translate(379.74,625.6) rotate(-90) scale(1.0488,1)" text-anchor="end" class="xl">Croatia</text>
<text transform="translate(395.93,625.6) rotate(-90) scale(1.0483,1)" text-anchor="end" class="xl">Singapore</text>
<text transform="translate(412.13,625.6) rotate(-90) scale(1.0192,1)" text-anchor="end" class="xl">Lithuania</text>
<text transform="translate(428.32,625.6) rotate(-90) scale(1.0238,1)" text-anchor="end" class="xl">Greece</text>
<text transform="translate(444.52,625.6) rotate(-90) scale(1.0221,1)" text-anchor="end" class="xl">United States</text>
<text transform="translate(460.72,625.6) rotate(-90) scale(1.0156,1)" text-anchor="end" class="xl">Spain</text>
<text transform="translate(476.91,625.6) rotate(-90) scale(1.045,1)" text-anchor="end" class="xl">Austria</text>
<text transform="translate(493.11,625.6) rotate(-90) scale(1.0217,1)" text-anchor="end" class="xl">Sweden</text>
<text transform="translate(509.30,625.6) rotate(-90) scale(1.0742,1)" text-anchor="end" class="xl">Malta</text>
<text transform="translate(525.50,625.6) rotate(-90) scale(1.0268,1)" text-anchor="end" class="xl">South Korea</text>
<text transform="translate(541.70,625.6) rotate(-90) scale(1.0824,1)" text-anchor="end" class="xl">United Kingdom</text>
<text transform="translate(557.89,625.6) rotate(-90) scale(1.0026,1)" text-anchor="end" class="xl">France</text>
<text transform="translate(574.09,625.6) rotate(-90) scale(1.0588,1)" text-anchor="end" class="xl">Denmark</text>
<text transform="translate(590.28,625.6) rotate(-90) scale(1.0394,1)" text-anchor="end" class="xl">China</text>
<text transform="translate(606.48,625.6) rotate(-90) scale(1.0224,1)" text-anchor="end" class="xl">Slovenia</text>
<text transform="translate(622.68,625.6) rotate(-90) scale(1.0833,1)" text-anchor="end" class="xl">Colombia</text>
<text transform="translate(638.87,625.6) rotate(-90) scale(1.0533,1)" text-anchor="end" class="xl">Israel</text>
<text transform="translate(655.07,625.6) rotate(-90) scale(1.0487,1)" text-anchor="end" class="xl">Poland</text>
<text transform="translate(671.26,625.6) rotate(-90) scale(1.0357,1)" text-anchor="end" class="xl">Estonia</text>
<text transform="translate(687.46,625.6) rotate(-90) scale(1.0235,1)" text-anchor="end" class="xl">Romania</text>
<text transform="translate(703.66,625.6) rotate(-90) scale(1.0721,1)" text-anchor="end" class="xl">Norway</text>
<text transform="translate(719.85,625.6) rotate(-90) scale(1.0629,1)" text-anchor="end" class="xl">Philippines</text>
<text transform="translate(736.05,625.6) rotate(-90) scale(1.071,1)" text-anchor="end" class="xl">Macedonia</text>
<text transform="translate(752.24,625.6) rotate(-90) scale(1.0719,1)" text-anchor="end" class="xl">Hong Kong</text>
<text transform="translate(768.44,625.6) rotate(-90) scale(1.0783,1)" text-anchor="end" class="xl">Belgium</text>
<text transform="translate(784.64,625.6) rotate(-90) scale(1.0706,1)" text-anchor="end" class="xl">Japan</text>
<text transform="translate(800.83,625.6) rotate(-90) scale(1.0653,1)" text-anchor="end" class="xl">Thailand</text>
<text transform="translate(817.03,625.6) rotate(-90) scale(1.047,1)" text-anchor="end" class="xl">Switzerland</text>
<text transform="translate(833.22,625.6) rotate(-90) scale(1.0947,1)" text-anchor="end" class="xl">Ireland</text>
<text transform="translate(849.42,625.6) rotate(-90) scale(1.0222,1)" text-anchor="end" class="xl">Serbia</text>
<text transform="translate(865.62,625.6) rotate(-90) scale(1.022,1)" text-anchor="end" class="xl">Malaysia</text>
<text transform="translate(881.81,625.6) rotate(-90) scale(1.0436,1)" text-anchor="end" class="xl">Indonesia</text>
<text transform="translate(898.01,625.6) rotate(-90) scale(1.0507,1)" text-anchor="end" class="xl">South Africa</text>
<text transform="translate(914.20,625.6) rotate(-90) scale(1.1091,1)" text-anchor="end" class="xl">Italy</text>
<text transform="translate(930.40,625.6) rotate(-90) scale(1.061,1)" text-anchor="end" class="xl">Finland</text>
<text transform="translate(946.60,625.6) rotate(-90) scale(1.063,1)" text-anchor="end" class="xl">India</text>
<text transform="translate(962.79,625.6) rotate(-90) scale(1.0129,1)" text-anchor="end" class="xl">Brazil</text>
<text transform="translate(978.99,625.6) rotate(-90) scale(1.0633,1)" text-anchor="end" class="xl">Morocco</text>
<text transform="translate(995.18,625.6) rotate(-90) scale(1.041,1)" text-anchor="end" class="xl">United Arab Emirates</text>
<text transform="translate(1011.38,625.6) rotate(-90) scale(1.025,1)" text-anchor="end" class="xl">Cyprus</text>
<text transform="translate(1027.58,625.6) rotate(-90) scale(0.9684,1)" text-anchor="end" class="xl">Russia</text>
<text x="571" y="793" class="src" textLength="475" lengthAdjust="spacingAndGlyphs">SOURCE: Bank for International Settlements and World Economic Outlook</text>
<rect x="0" y="814.6" width="1099" height="65.4" fill="#004b98"/>
<text x="32.3" y="855.3" class="ft" textLength="185" lengthAdjust="spacingAndGlyphs">IMF.org/housing</text>
<text x="1065" y="855.4" text-anchor="end" class="ft" textLength="177" lengthAdjust="spacingAndGlyphs">#HousingWatch</text>
</svg>
</body></html>
